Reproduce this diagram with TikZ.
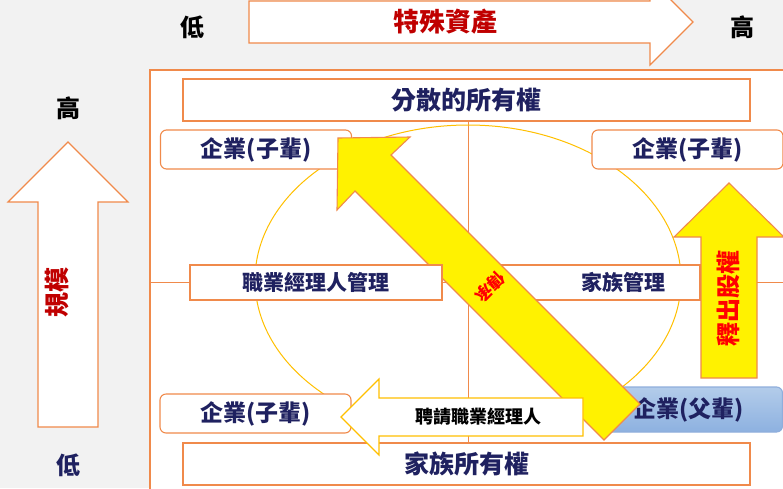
\documentclass[tikz,border=0pt]{standalone}
\usepackage{fontspec}
\setmainfont{Noto Sans CJK TC}
\usepackage{xcolor}

\definecolor{edge}{HTML}{F08A4B}
\definecolor{navy}{HTML}{1F2160}
\definecolor{darkred}{HTML}{C00000}
\definecolor{gold}{HTML}{FFC000}
\definecolor{paper}{HTML}{F2F2F2}
\definecolor{skyA}{HTML}{B3CCEA}
\definecolor{skyB}{HTML}{8DB1E0}
\definecolor{skyline}{HTML}{8FAEDC}
\newcommand{\fsz}[1]{\fontsize{#1}{#1}\selectfont}

\begin{document}
\begin{tikzpicture}[x=1pt, y=-1pt]
    \tikzstyle{box} = [draw=edge, fill=white, line width=1.1pt, inner sep=0pt, font=\bfseries\fsz{25}, text=navy];
    \tikzstyle{firm} = [box, rounded corners=6pt, minimum width=191pt, minimum height=39pt, font=\bfseries\fsz{23}];
    \tikzstyle{manage} = [box, minimum height=35pt, font=\bfseries\fsz{21}];
    \tikzstyle{hollow} = [draw=edge, fill=white, line width=1.1pt];
    \tikzstyle{solid} = [draw=edge, fill=yellow, line width=1.1pt];
    \tikzstyle{axis} = [font=\bfseries\fsz{24}];
    \tikzstyle{caption} = [font=\bfseries\fsz{25}, text=darkred];

    \useasboundingbox (0,0) rectangle (783,488);
    \fill[paper] (0,0) rectangle (783,488);
    \clip (0,0) rectangle (783,488);

    % axes outside the frame
    \draw[hollow] (249,1) -- (650,1) -- (650,-21) -- (693,22) -- (650,65) -- (650,43) -- (249,43) -- cycle;
    \node[caption, font=\bfseries\fsz{26}] (asset) at (445,22) {特殊資產};
    \node[axis] (lowx) at (192,27) {低};
    \node[axis] (highx) at (742,27) {高};

    \draw[hollow] (38,427) -- (38,202) -- (8,202) -- (68,142) -- (128,202) -- (98,202) -- (98,427) -- cycle;
    \node[caption, rotate=90] (scale) at (57,292) {規模};
    \node[axis] (highy) at (68,108) {高};
    \node[axis, text=navy] (lowy) at (68,465) {低};

    % the frame
    \draw[draw=edge, fill=white, line width=1.1pt] (150,70) rectangle (800,500);
    \node[box, minimum width=567pt, minimum height=42pt] (spread) at (466.5,100) {分散的所有權};
    \node[box, minimum width=567pt, minimum height=42pt] (family) at (466.5,464) {家族所有權};
    \draw[edge, line width=1pt] (spread.south -| 468,0) -- (family.north -| 468,0);
    \draw[edge, line width=1pt] (150,282) -- (783,282);
    \draw[gold, line width=1pt] (468,280) ellipse [x radius=213pt, y radius=155pt];

    \node[firm] (childA) at (256,149.5) {企業(子輩)};
    \node[firm] (childB) at (687.5,149.5) {企業(子輩)};
    \node[manage, minimum width=215pt] (famrun) at (592.5,282.5) {};
    \node[firm, minimum width=188pt, minimum height=45pt, draw=skyline, top color=skyA, bottom color=skyB] (parent) at (688.5,409.5) {企業(父輩)};

    % succession
    \draw[solid] (338,138) -- (410,137) -- (391,155) -- (640,404) -- (604,440) -- (355,191) -- (337,210) -- cycle;
    \node[font=\bfseries\fsz{17}, text=red, rotate=-135, inner sep=0pt] (pass) at (490,287) {傳承};

    \node[manage, minimum width=252pt] (prorun) at (316,282.5) {職業經理人管理};
    \node[font=\bfseries\fsz{21}, text=navy] (famtext) at (623,282.5) {家族管理};

    \draw[solid] (701,378) -- (701,237) -- (674,237) -- (729,183) -- (784,237) -- (757,237) -- (757,378) -- cycle;
    \node[font=\bfseries\fsz{24}, text=red, rotate=90] (release) at (728,298) {釋出股權};

    \node[firm] (childC) at (255.5,413.5) {企業(子輩)};
    \draw[draw=gold, fill=white, line width=1.1pt] (583,398) -- (379,398) -- (379,379) -- (341,417) -- (379,455) -- (379,436) -- (583,436) -- cycle;
    \node[font=\bfseries\fsz{18}] (hire) at (478,417) {聘請職業經理人};
\end{tikzpicture}
\end{document}
